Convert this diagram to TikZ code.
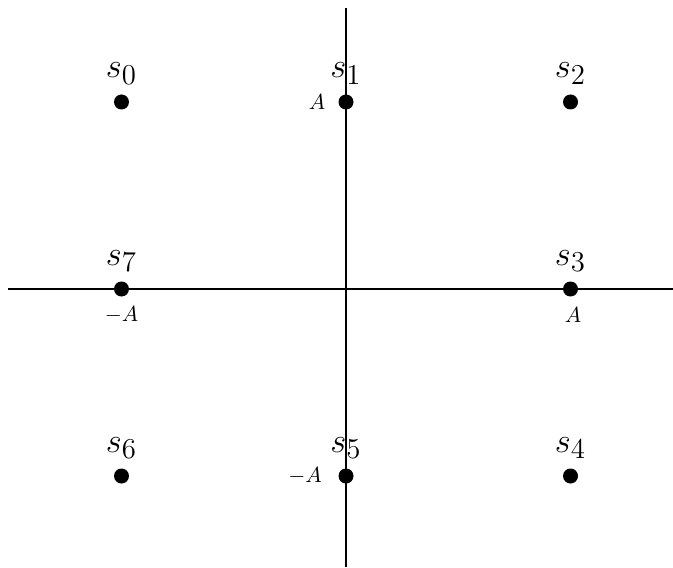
\documentclass[tikz,border=0pt]{standalone}
\begin{document}
\begin{tikzpicture}[x=1pt,y=1pt,
  dot/.style={circle,fill=black,inner sep=0pt,minimum size=7.5pt},
  slab/.style={anchor=base,inner sep=0pt,font=\fontsize{19}{22}\selectfont},
  alab/.style={inner sep=0pt,font=\fontsize{10.5}{12}\selectfont},
  axis/.style={line width=0.75pt}]
\useasboundingbox (-173,-139) rectangle (163.5,144.5);
\coordinate (xl) at (-169,0);
\coordinate (xr) at (163.5,0);
\coordinate (yb) at (0,-139);
\coordinate (yt) at (0,140.5);
\draw[axis] (xl) -- (xr);
\draw[axis] (yb) -- (yt);
\node[dot] (p0) at (-112.25,93.5) {};
\node[dot] (p1) at (0,93.5) {};
\node[dot] (p2) at (112.25,93.5) {};
\node[dot] (p3) at (112.25,0) {};
\node[dot] (p4) at (112.25,-93.5) {};
\node[dot] (p5) at (0,-93.5) {};
\node[dot] (p6) at (-112.25,-93.5) {};
\node[dot] (p7) at (-112.25,0) {};
\node[slab] (l0) at (-112.25,105.5) {$s_0$};
\node[slab] (l1) at (0,105.5) {$s_1$};
\node[slab] (l2) at (112.25,105.5) {$s_2$};
\node[slab] (l3) at (112.25,12) {$s_3$};
\node[slab] (l4) at (112.25,-81.5) {$s_4$};
\node[slab] (l5) at (0,-81.5) {$s_5$};
\node[slab] (l6) at (-112.25,-81.5) {$s_6$};
\node[slab] (l7) at (-112.25,12) {$s_7$};
\node[alab] (a1) at (-14.5,93.3) {$A$};
\node[alab] (a3) at (113.5,-13) {$A$};
\node[alab] (a5) at (-20.5,-93.3) {$-A$};
\node[alab] (a7) at (-112.25,-13) {$-A$};
\end{tikzpicture}
\end{document}
